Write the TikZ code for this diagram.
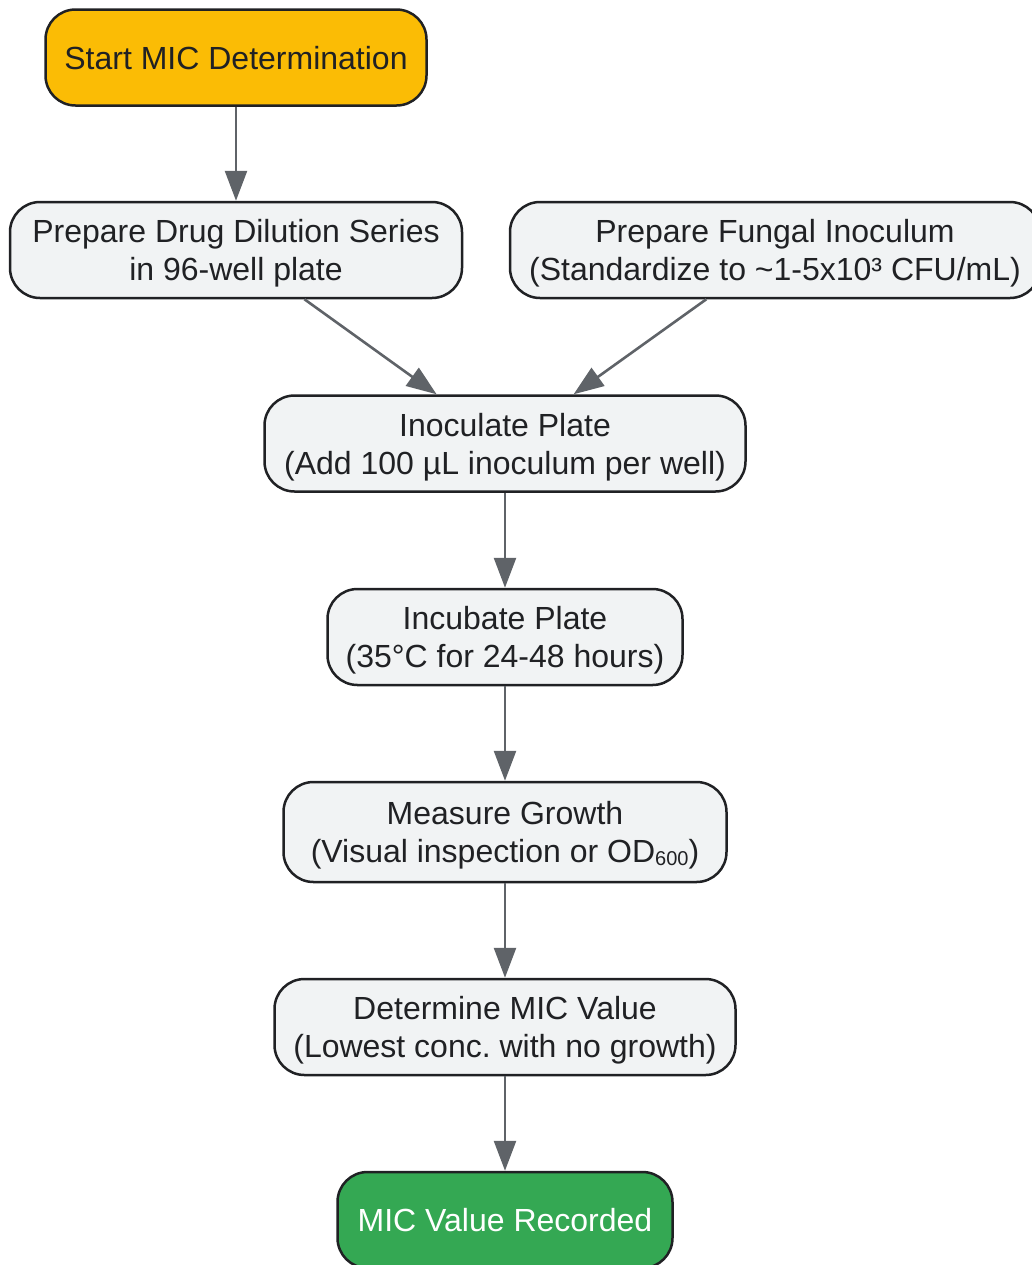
\documentclass[tikz,border=0pt]{standalone}
\usepackage{fontspec}
\setmainfont{Liberation Sans}
\usetikzlibrary{arrows.meta}

\definecolor{startfill}{HTML}{FBBC05}
\definecolor{endfill}{HTML}{34A853}
\definecolor{boxfill}{HTML}{F1F3F4}
\definecolor{boxline}{HTML}{202124}
\definecolor{arrowcol}{HTML}{5F6368}

\tikzset{
  stepbox/.style={draw=boxline, line width=1.25pt, rounded corners=15pt,
    fill=boxfill, text=boxline, align=center, minimum height=48pt,
    inner sep=0pt, text depth=0pt, font=\fontsize{16}{19}\selectfont},
  flow/.style={draw=arrowcol, line width=1.3pt,
    -{Triangle[length=15pt,width=11pt]}}
}

\begin{document}
\begin{tikzpicture}[x=0.5pt,y=-0.5pt]
\useasboundingbox (0,0) rectangle (1032,1265);

\node[stepbox,fill=startfill,minimum width=190.5pt] (start) at (236,57.5) {Start MIC Determination};
\node[stepbox,minimum width=226pt] (drug) at (236,250) {Prepare Drug Dilution Series\\in 96-well plate};
\node[stepbox,minimum width=265pt] (fungal) at (775,250) {Prepare Fungal Inoculum\\(Standardize to \textasciitilde1-5x10³ CFU/mL)};
\node[stepbox,minimum width=240.5pt] (inoculate) at (505,443.5) {Inoculate Plate\\(Add 100 µL inoculum per well)};
\node[stepbox,minimum width=177.5pt] (incubate) at (505,637) {Incubate Plate\\(35°C for 24-48 hours)};
\node[stepbox,minimum width=221.5pt,minimum height=50pt] (measure) at (505,832) {Measure Growth\\(Visual inspection or OD\raisebox{-0.15ex}{\fontsize{10}{12}\selectfont 600})};
\node[stepbox,minimum width=230.5pt] (determine) at (505,1027) {Determine MIC Value\\(Lowest conc.\ with no growth)};
\node[stepbox,fill=endfill,text=white,minimum width=167.5pt] (recorded) at (505,1220) {MIC Value Recorded};

\draw[flow] (start) -- (drug);
\draw[flow] (drug) -- (inoculate);
\draw[flow] (fungal) -- (inoculate);
\draw[flow] (inoculate) -- (incubate);
\draw[flow] (incubate) -- (measure);
\draw[flow] (measure) -- (determine);
\draw[flow] (determine) -- (recorded);
\end{tikzpicture}
\end{document}
